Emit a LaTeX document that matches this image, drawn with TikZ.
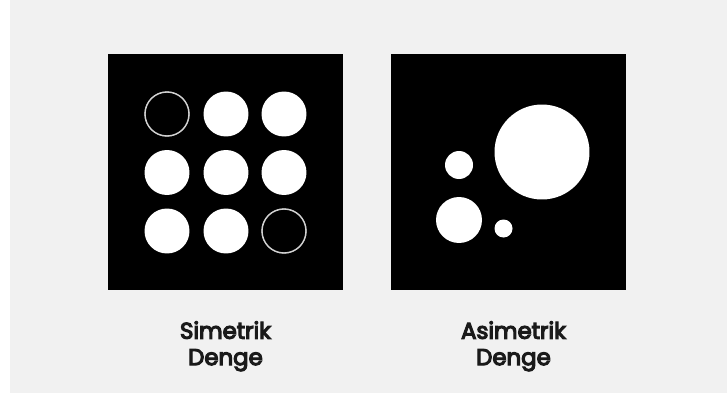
\documentclass[tikz,border=0pt]{standalone}
\usepackage{fontspec}
\setmainfont{Poppins}
\newfontfamily\capfont{Poppins}[FakeBold=5]
\usetikzlibrary{positioning}
\definecolor{pagegray}{HTML}{F1F1F1}
\definecolor{ringgray}{HTML}{D2D2D2}
\definecolor{inkgray}{HTML}{1A1A1A}

\begin{document}
\begin{tikzpicture}[x=0.02cm, y=-0.02cm,
    panel/.style={fill=black, draw=none, minimum size=4.72cm, inner sep=0pt},
    dot/.style={circle, fill=white, draw=none, inner sep=0pt},
    ring/.style={circle, draw=ringgray, line width=0.8pt, inner sep=0pt, minimum size=0.88cm},
    caption/.style={align=center, inner sep=0pt, text=inkgray, font=\capfont\fontsize{13}{15}\selectfont}]
  \useasboundingbox (0,0) rectangle (727,396);
  \fill[white] (0,0) rectangle (727,396);
  \fill[pagegray] (10,0) rectangle (727,393);

  % panels
  \node[panel] (sym) at (225.5,172) {};
  \node[panel] (asym) at (508.5,172) {};

  % symmetric grid of 3x3
  \foreach \r/\y in {1/114, 2/172.5, 3/231} {
    \foreach \c/\x in {1/167, 2/226, 3/284} {
      \node[dot, minimum size=0.9cm] (s-\r-\c) at (\x,\y) {};
    }
  }
  \node[ring, fill=black] at (s-1-1) {};
  \node[ring, fill=black] at (s-3-3) {};

  % asymmetric group
  \node[dot, minimum size=1.9cm]  (big)   at (542,152) {};
  \node[dot, minimum size=0.56cm] (small) at (459,165) {};
  \node[dot, minimum size=0.92cm] (mid)   at (459,220) {};
  \node[dot, minimum size=0.36cm] (tiny)  at (503.5,228.5) {};

  % captions
  \node[caption, anchor=north] (symlbl)  at (225.5,321) {Simetrik\\Denge};
  \node[caption, anchor=north] (asymlbl) at (513.5,321) {Asimetrik\\Denge};
\end{tikzpicture}
\end{document}
